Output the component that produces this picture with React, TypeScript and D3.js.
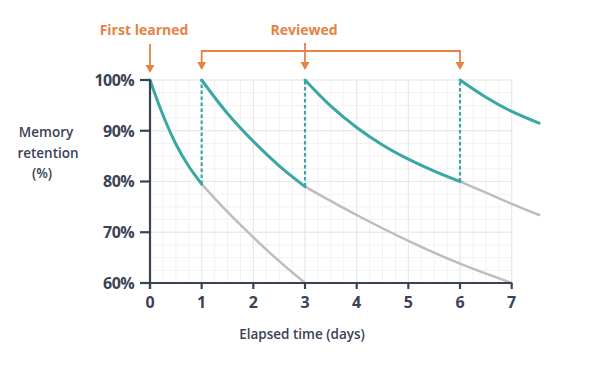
import React from "react";
import * as d3 from "d3";

const dayTicks = [0, 1, 2, 3, 4, 5, 6, 7];
const pctTicks = [60, 70, 80, 90, 100];
const reviewDays = [1, 3, 6];
const firstDay = 0;

// [day, retention %]
const tealFirst: [number, number][] = [[0, 100], [0.25, 93.1], [0.5, 87.4], [0.75, 83], [1, 79.5]];
const grayFirst: [number, number][] = [[1, 79.5], [1.5, 74], [2, 69], [2.5, 64.3], [3, 60]];
const tealSecond: [number, number][] = [[1, 100], [1.5, 93.4], [2, 87.9], [2.5, 83.1], [3, 79]];
const graySecond: [number, number][] = [[3, 79], [4, 73.4], [5, 68.3], [6, 63.8], [7, 60]];
const tealThird: [number, number][] = [[3, 100], [3.5, 94.85], [4, 90.65], [4.5, 87.2], [5, 84.4], [5.5, 82.05], [6, 80]];
const grayThird: [number, number][] = [[6, 80], [6.5, 77.8], [7, 75.6], [7.53, 73.4]];
const tealFourth: [number, number][] = [[6, 100], [6.5, 96.6], [7, 93.8], [7.53, 91.5]];
const reviewLow = [79.5, 79, 80];

const TEAL = "#3aa7a3";
const GRAY = "#bdbdbd";
const ORANGE = "#e58244";
const INK = "#3a4256";
const FONT = "'Open Sans', sans-serif";

export default function App() {
  const x = d3.scaleLinear().domain([0, 7]).range([150, 511.7]);
  const y = d3.scaleLinear().domain([60, 100]).range([283, 80]);
  const line = d3
    .line<[number, number]>()
    .x((d) => x(d[0]))
    .y((d) => y(d[1]))
    .curve(d3.curveCatmullRom.alpha(0.5));

  const minorX = d3.range(0, 7.001, 0.25);
  const minorY = d3.range(60, 100.001, 2.5);
  const majorX = d3.range(0, 7.001, 1);
  const majorY = d3.range(60, 100.001, 10);

  const arrowHead = (cx: number, tipY: number) =>
    `M${cx - 4.5},${tipY - 8} L${cx + 4.5},${tipY - 8} L${cx},${tipY} Z`;

  return (
    <div style={{ position: "fixed", left: 0, top: 0 }}>
      <svg width={602} height={366} style={{ display: "block", background: "#fff" }}>
        {/* grid */}
        <g>
          {minorX.map((t) => (
            <line key={"mx" + t} x1={x(t)} x2={x(t)} y1={y(60)} y2={y(100)} stroke="#f2f2f2" strokeWidth={1} />
          ))}
          {minorY.map((v) => (
            <line key={"my" + v} x1={x(0)} x2={x(7)} y1={y(v)} y2={y(v)} stroke="#f2f2f2" strokeWidth={1} />
          ))}
          {majorX.map((t) => (
            <line key={"Mx" + t} x1={x(t)} x2={x(t)} y1={y(60)} y2={y(100)} stroke="#e7e7e7" strokeWidth={1} />
          ))}
          {majorY.map((v) => (
            <line key={"My" + v} x1={x(0)} x2={x(7)} y1={y(v)} y2={y(v)} stroke="#e7e7e7" strokeWidth={1} />
          ))}
        </g>

        {/* curves */}
        <g fill="none" strokeLinecap="round">
          <path d={line(grayFirst) || ""} stroke={GRAY} strokeWidth={2.5} />
          <path d={line(graySecond) || ""} stroke={GRAY} strokeWidth={2.5} />
          <path d={line(grayThird) || ""} stroke={GRAY} strokeWidth={2.5} />
          {reviewDays.map((t, i) => (
            <line
              key={"dash" + t}
              x1={x(t)}
              x2={x(t)}
              y1={y(reviewLow[i])}
              y2={y(100)}
              stroke={TEAL}
              strokeWidth={2.2}
              strokeDasharray="3.5 2.5"
              strokeLinecap="butt"
            />
          ))}
          <path d={line(tealFirst) || ""} stroke={TEAL} strokeWidth={3} />
          <path d={line(tealSecond) || ""} stroke={TEAL} strokeWidth={3} />
          <path d={line(tealThird) || ""} stroke={TEAL} strokeWidth={3} />
          <path d={line(tealFourth) || ""} stroke={TEAL} strokeWidth={3} />
        </g>

        {/* axes */}
        <g stroke={INK} strokeWidth={2.2}>
          <line x1={x(0)} x2={x(0)} y1={y(100)} y2={y(60) + 6} />
          <line x1={x(0)} x2={x(7)} y1={y(60)} y2={y(60)} />
          {pctTicks.map((v) => (
            <line key={"yt" + v} x1={x(0) - 10} x2={x(0)} y1={y(v)} y2={y(v)} />
          ))}
          {dayTicks.map((t) => (
            <line key={"xt" + t} x1={x(t)} x2={x(t)} y1={y(60)} y2={y(60) + 6} />
          ))}
        </g>
        <g fill={INK} fontFamily={FONT} fontWeight={700} fontSize={16}>
          {pctTicks.map((v) => (
            <text key={"yl" + v} x={x(0) - 16} y={y(v)} dy="0.36em" textAnchor="end" letterSpacing={-0.6}>
              {v + "%"}
            </text>
          ))}
          {dayTicks.map((t) => (
            <text key={"xl" + t} x={x(t)} y={308} textAnchor="middle">
              {t}
            </text>
          ))}
        </g>
        <g fill={INK} fontFamily={FONT} fontWeight={600} fontSize={13.5}>
          <text x={302} y={339} textAnchor="middle">Elapsed time (days)</text>
          <text x={46} y={137} textAnchor="middle">Memory</text>
          <text x={48} y={158} textAnchor="middle">retention</text>
          <text x={42} y={178} textAnchor="middle">(%)</text>
        </g>

        {/* annotations */}
        <g fontFamily={FONT} fontWeight={700} fontSize={14} fill={ORANGE}>
          <text x={144} y={35} textAnchor="middle">First learned</text>
          <text x={304} y={35} textAnchor="middle">Reviewed</text>
        </g>
        <g stroke={ORANGE} strokeWidth={1.8} fill="none">
          <line x1={x(firstDay)} x2={x(firstDay)} y1={44} y2={66} />
          <line x1={x(3)} x2={x(3)} y1={43} y2={64} />
          <polyline points={`${x(1)},62 ${x(1)},51 ${x(6)},51 ${x(6)},62`} />
        </g>
        <g fill={ORANGE}>
          <path d={arrowHead(x(firstDay), 73)} />
          {reviewDays.map((t) => (
            <path key={"ah" + t} d={arrowHead(x(t), 70)} />
          ))}
        </g>
      </svg>
    </div>
  );
}
